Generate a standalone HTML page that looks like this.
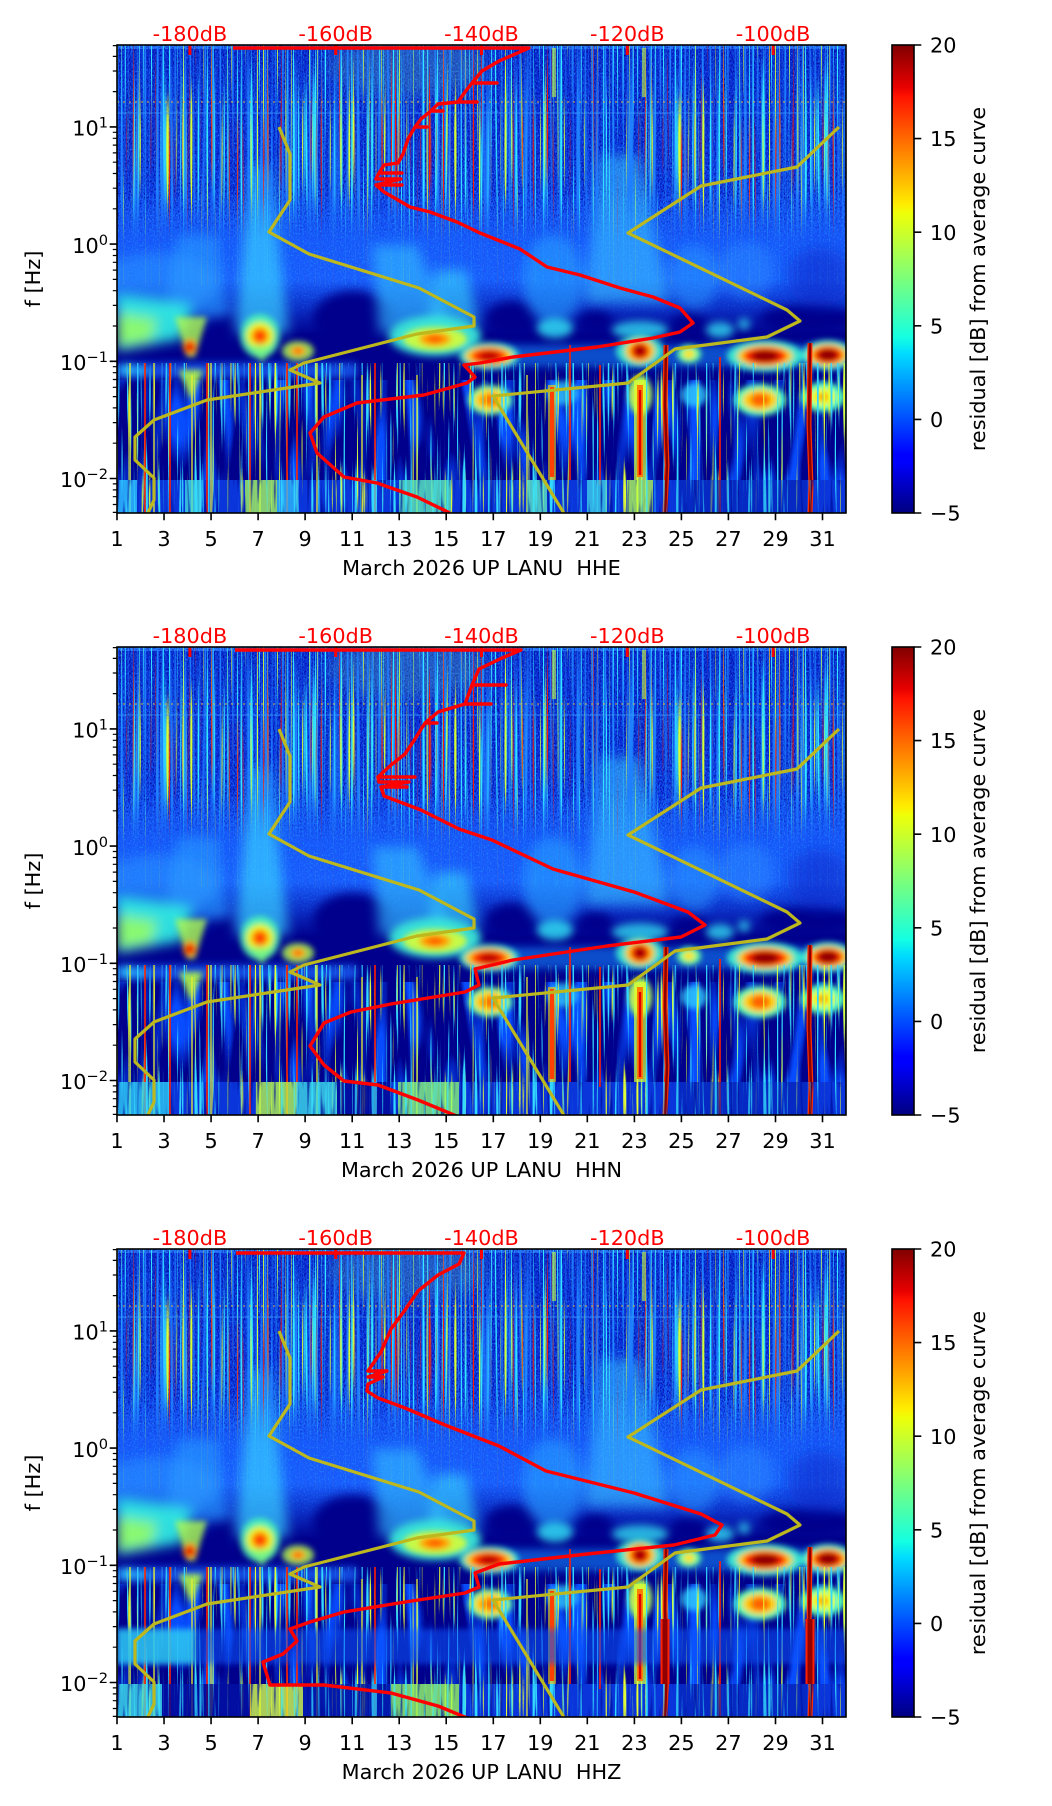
<!DOCTYPE html>
<html><head><meta charset="utf-8"><style>
html,body{margin:0;padding:0;background:#fff;}
svg{display:block;}
text{font-family:"DejaVu Sans","Liberation Sans",sans-serif;}
</style></head><body>
<svg width="1052" height="1806" viewBox="0 0 1052 1806" xmlns="http://www.w3.org/2000/svg" xmlns:xlink="http://www.w3.org/1999/xlink">
<defs>
<linearGradient id="jet" x1="0" y1="1" x2="0" y2="0">
<stop offset="0" stop-color="#000080"/><stop offset="0.11" stop-color="#0000ff"/><stop offset="0.125" stop-color="#0000ff"/><stop offset="0.34" stop-color="#00dbff"/><stop offset="0.375" stop-color="#14ffe2"/><stop offset="0.5" stop-color="#7bff7b"/><stop offset="0.64" stop-color="#eeff08"/><stop offset="0.66" stop-color="#ffec00"/><stop offset="0.89" stop-color="#ff1300"/><stop offset="0.91" stop-color="#e80000"/><stop offset="1" stop-color="#800000"/>
</linearGradient>
<linearGradient id="gUp" x1="0" y1="0" x2="0" y2="1">
<stop offset="0" stop-color="#0a2ed8"/><stop offset="0.6" stop-color="#0b36e4"/><stop offset="1" stop-color="#1248f0"/>
</linearGradient>
<linearGradient id="gMid" x1="0" y1="0" x2="0" y2="1">
<stop offset="0" stop-color="#1248f0"/><stop offset="0.15" stop-color="#1656fa"/><stop offset="0.6" stop-color="#1a5eff"/><stop offset="0.8" stop-color="#0c30c8"/><stop offset="1" stop-color="#00008c"/>
</linearGradient>
<linearGradient id="gFadeUp" gradientUnits="userSpaceOnUse" x1="0" y1="150" x2="0" y2="195">
<stop offset="0" stop-color="#fff"/><stop offset="1" stop-color="#1a1a1a"/>
</linearGradient>
<linearGradient id="gFadeMid" gradientUnits="userSpaceOnUse" x1="0" y1="222" x2="0" y2="278">
<stop offset="0" stop-color="#fff"/><stop offset="1" stop-color="#000"/>
</linearGradient>
<mask id="mUp" maskUnits="userSpaceOnUse" x="0" y="0" width="729" height="468"><rect width="729" height="468" fill="url(#gFadeUp)"/></mask>
<mask id="mMid" maskUnits="userSpaceOnUse" x="0" y="0" width="729" height="468"><rect width="729" height="468" fill="url(#gFadeMid)"/></mask>
<clipPath id="cp"><rect x="0" y="0" width="729" height="468"/></clipPath>
<filter id="b3" filterUnits="userSpaceOnUse" x="-60" y="-60" width="850" height="590"><feGaussianBlur stdDeviation="3"/></filter>
<filter id="b4" filterUnits="userSpaceOnUse" x="-60" y="-60" width="850" height="590"><feGaussianBlur stdDeviation="4"/></filter>
<filter id="b5" filterUnits="userSpaceOnUse" x="-60" y="-60" width="850" height="590"><feGaussianBlur stdDeviation="5"/></filter>
<filter id="b6" filterUnits="userSpaceOnUse" x="-60" y="-60" width="850" height="590"><feGaussianBlur stdDeviation="6"/></filter>
<filter id="b8" filterUnits="userSpaceOnUse" x="-60" y="-60" width="850" height="590"><feGaussianBlur stdDeviation="8"/></filter>
<filter id="stL" filterUnits="userSpaceOnUse" x="0" y="0" width="729" height="468" color-interpolation-filters="sRGB">
<feTurbulence type="fractalNoise" baseFrequency="0.4 0.004" numOctaves="1" seed="7"/>
<feColorMatrix type="matrix" values="0 0 0 0 0.12  0 0 0 0 0.5  0 0 0 0 1  6 0 0 0 -3.0"/>
<feComposite in2="SourceAlpha" operator="in"/>
</filter>
<filter id="stC" filterUnits="userSpaceOnUse" x="0" y="0" width="729" height="468" color-interpolation-filters="sRGB">
<feTurbulence type="fractalNoise" baseFrequency="0.5 0.005" numOctaves="1" seed="3"/>
<feColorMatrix type="matrix" values="0 0 0 0 0.2  0 0 0 0 0.9  0 0 0 0 1  8 0 0 0 -4.6"/>
<feComposite in2="SourceAlpha" operator="in"/>
</filter>
<filter id="stY" filterUnits="userSpaceOnUse" x="0" y="0" width="729" height="468" color-interpolation-filters="sRGB">
<feTurbulence type="fractalNoise" baseFrequency="0.5 0.005" numOctaves="1" seed="11"/>
<feColorMatrix type="matrix" values="0 0 0 0 0.85  0 0 0 0 1  0 0 0 0 0.2  10 0 0 0 -6.4"/>
<feComposite in2="SourceAlpha" operator="in"/>
</filter>
<filter id="stR" filterUnits="userSpaceOnUse" x="0" y="0" width="729" height="468" color-interpolation-filters="sRGB">
<feTurbulence type="fractalNoise" baseFrequency="0.5 0.005" numOctaves="1" seed="23"/>
<feColorMatrix type="matrix" values="0 0 0 0 1  0 0 0 0 0.1  0 0 0 0 0  10 0 0 0 -6.7"/>
<feComposite in2="SourceAlpha" operator="in"/>
</filter>
<filter id="stC2" filterUnits="userSpaceOnUse" x="0" y="0" width="729" height="468" color-interpolation-filters="sRGB">
<feTurbulence type="fractalNoise" baseFrequency="0.45 0.01" numOctaves="1" seed="31"/>
<feColorMatrix type="matrix" values="0 0 0 0 0.2  0 0 0 0 0.85  0 0 0 0 1  9 0 0 0 -5.2"/>
<feComposite in2="SourceAlpha" operator="in"/>
</filter>
<filter id="stY2" filterUnits="userSpaceOnUse" x="0" y="0" width="729" height="468" color-interpolation-filters="sRGB">
<feTurbulence type="fractalNoise" baseFrequency="0.45 0.01" numOctaves="1" seed="41"/>
<feColorMatrix type="matrix" values="0 0 0 0 0.9  0 0 0 0 1  0 0 0 0 0.2  10 0 0 0 -6.4"/>
<feComposite in2="SourceAlpha" operator="in"/>
</filter>
<filter id="stN" filterUnits="userSpaceOnUse" x="0" y="0" width="729" height="468" color-interpolation-filters="sRGB">
<feTurbulence type="fractalNoise" baseFrequency="0.3 0.02" numOctaves="1" seed="53"/>
<feColorMatrix type="matrix" values="0 0 0 0 0  0 0 0 0 0.05  0 0 0 0 0.6  6 0 0 0 -3.4"/>
<feComposite in2="SourceAlpha" operator="in"/>
</filter>
<filter id="stB" filterUnits="userSpaceOnUse" x="0" y="0" width="729" height="468" color-interpolation-filters="sRGB">
<feTurbulence type="fractalNoise" baseFrequency="0.07 0.012" numOctaves="1" seed="5"/>
<feColorMatrix type="matrix" values="0 0 0 0 0.03  0 0 0 0 0.3  0 0 0 0 1  5 0 0 0 -2.4"/>
<feComposite in2="SourceAlpha" operator="in"/>
</filter>
<filter id="spk" filterUnits="userSpaceOnUse" x="0" y="0" width="729" height="468" color-interpolation-filters="sRGB">
<feTurbulence type="fractalNoise" baseFrequency="0.8 0.5" numOctaves="1" seed="9"/>
<feColorMatrix type="matrix" values="0 0 0 0 0  0 0 0 0 0  0 0 0 0 0.55  5 0 0 0 -2.3"/>
<feComposite in2="SourceAlpha" operator="in"/>
</filter>
<filter id="spkL" filterUnits="userSpaceOnUse" x="0" y="0" width="729" height="468" color-interpolation-filters="sRGB">
<feTurbulence type="fractalNoise" baseFrequency="0.8 0.5" numOctaves="1" seed="17"/>
<feColorMatrix type="matrix" values="0 0 0 0 0.15  0 0 0 0 0.58  0 0 0 0 1  5 0 0 0 -2.7"/>
<feComposite in2="SourceAlpha" operator="in"/>
</filter>

<g id="spec">
<rect width="729" height="468" fill="#00008c"/>
<rect width="729" height="175" fill="url(#gUp)"/>
<rect y="150" width="729" height="140" fill="url(#gMid)"/>
<rect width="729" height="4" fill="#2a78ff"/>
<g mask="url(#mUp)">
<rect width="729" height="260" filter="url(#spk)" opacity="0.7"/>
</g>
<g mask="url(#mMid)">
<rect width="729" height="290" filter="url(#spkL)" opacity="0.6"/>
</g>
<ellipse cx="290" cy="22" rx="80" ry="30" fill="#70e0a0" opacity="0.25" filter="url(#b8)"/>
<g fill="#00008c" filter="url(#b5)">
<ellipse cx="236" cy="274" rx="40" ry="28"/>
<ellipse cx="106" cy="284" rx="16" ry="14"/>
<ellipse cx="395" cy="274" rx="26" ry="18"/>
<ellipse cx="478" cy="277" rx="18" ry="12"/>
<ellipse cx="572" cy="280" rx="18" ry="12"/>
<ellipse cx="690" cy="274" rx="48" ry="14"/>
</g>
<ellipse cx="702" cy="232" rx="32" ry="30" fill="#0828c8" opacity="0.55" filter="url(#b8)"/>
<g filter="url(#b6)">
<ellipse cx="40" cy="238" rx="60" ry="30" fill="#2a98ff" opacity="0.55"/>
<polygon points="60,190 100,190 112,272 48,272" fill="#2a9cff" opacity="0.6"/>
<polygon points="134,120 152,120 172,288 118,288" fill="#38d0ff" opacity="0.7"/>
<polygon points="255,200 300,200 335,288 262,288" fill="#30b8ff" opacity="0.65"/>
<polygon points="318,225 350,225 362,282 312,282" fill="#38d0ff" opacity="0.65"/>
<ellipse cx="436" cy="235" rx="30" ry="45" fill="#2aa0ff" opacity="0.6"/>
<polygon points="482,110 522,110 552,258 468,258" fill="#38c8ff" opacity="0.55"/>
<ellipse cx="577" cy="232" rx="25" ry="32" fill="#2a98ff" opacity="0.55"/>
<ellipse cx="630" cy="225" rx="28" ry="28" fill="#2a90ff" opacity="0.45"/>
<polygon points="0,250 75,260 65,294 0,306" fill="#30e8e0" opacity="0.95"/>
<polygon points="0,268 40,274 34,296 0,302" fill="#a0ff58" opacity="0.8"/>
</g>
<g filter="url(#b4)">
<ellipse cx="438" cy="283" rx="18" ry="10" fill="#30d8f0" opacity="0.85"/>
<ellipse cx="523" cy="285" rx="28" ry="9" fill="#30d8f0" opacity="0.8"/>
<ellipse cx="603" cy="285" rx="14" ry="8" fill="#30d8f0" opacity="0.8"/>
<ellipse cx="627" cy="279" rx="6" ry="6" fill="#30d8f0" opacity="0.75"/>
<ellipse cx="318" cy="291" rx="46" ry="20" fill="#38e8d8" opacity="0.95"/>
<rect x="380" y="300" width="349" height="22" fill="#1a8cff" opacity="0.55"/>
<rect x="0" y="318" width="240" height="15" fill="#1a66ff" opacity="0.75"/>
<ellipse cx="10" cy="325" rx="8" ry="6" fill="#30d0ff" opacity="0.8"/>
<ellipse cx="25" cy="326" rx="6" ry="5" fill="#30d0ff" opacity="0.7"/>
</g>
<g mask="url(#mUp)">
<rect width="729" height="240" filter="url(#stL)"/>
<rect width="729" height="240" filter="url(#stC)"/>
<rect width="729" height="240" filter="url(#stY)"/>
<rect width="729" height="240" filter="url(#stR)"/>
</g>
<rect y="335" width="729" height="100" filter="url(#stB)"/>
<rect y="435" width="729" height="33" fill="#0a3ee8" opacity="0.85"/>
<g filter="url(#b3)">
<polygon points="58,272 90,272 78,312 70,312" fill="#b0ff50" opacity="0.8"/>
<ellipse cx="73" cy="302" rx="7" ry="8" fill="#ff8000"/>
<ellipse cx="73" cy="302" rx="4" ry="5" fill="#e00000"/>
<ellipse cx="143" cy="291" rx="20" ry="22" fill="#50ffb0" opacity="0.8"/>
<ellipse cx="143" cy="291" rx="14" ry="14" fill="#e8ff20"/>
<ellipse cx="143" cy="291" rx="9" ry="9" fill="#ff9000"/>
<ellipse cx="143" cy="291" rx="5" ry="5" fill="#ff3000"/>
<polygon points="130,300 158,300 145,318" fill="#80ff80" opacity="0.7"/>
<ellipse cx="181" cy="306" rx="16" ry="10" fill="#b0ff50" opacity="0.8"/>
<ellipse cx="181" cy="306" rx="8" ry="5" fill="#ffb000"/>
<ellipse cx="181" cy="306" rx="4" ry="3" fill="#ff5000"/>
<ellipse cx="318" cy="294" rx="32" ry="12" fill="#e0ff30" opacity="0.85"/>
<ellipse cx="318" cy="294" rx="16" ry="7" fill="#ffa000"/>
<ellipse cx="318" cy="294" rx="8" ry="4" fill="#ff6000"/>
<ellipse cx="372" cy="311" rx="30" ry="14" fill="#40ffd0" opacity="0.8"/>
<ellipse cx="372" cy="311" rx="24" ry="10" fill="#ffd000"/>
<ellipse cx="372" cy="311" rx="18" ry="8" fill="#ff3000"/>
<ellipse cx="372" cy="311" rx="10" ry="5" fill="#c00000"/>
<ellipse cx="523" cy="306" rx="24" ry="16" fill="#40ffd0" opacity="0.8"/>
<ellipse cx="523" cy="306" rx="15" ry="12" fill="#ffd000"/>
<ellipse cx="523" cy="306" rx="10" ry="9" fill="#ff2000"/>
<ellipse cx="523" cy="306" rx="6" ry="6" fill="#a00000"/>
<ellipse cx="572" cy="309" rx="12" ry="9" fill="#60ffa0"/>
<ellipse cx="572" cy="309" rx="6" ry="5" fill="#ffe000"/>
<ellipse cx="648" cy="311" rx="38" ry="16" fill="#40ffd0" opacity="0.85"/>
<ellipse cx="648" cy="311" rx="28" ry="11" fill="#ffd000"/>
<ellipse cx="648" cy="311" rx="22" ry="9" fill="#ff2000"/>
<ellipse cx="648" cy="311" rx="14" ry="6" fill="#900000"/>
<ellipse cx="711" cy="310" rx="26" ry="15" fill="#40ffd0" opacity="0.85"/>
<ellipse cx="711" cy="310" rx="20" ry="11" fill="#ffd000"/>
<ellipse cx="711" cy="310" rx="15" ry="9" fill="#ff2000"/>
<ellipse cx="711" cy="310" rx="10" ry="6" fill="#900000"/>
<polygon points="62,325 86,325 74,356" fill="#b8ff40" opacity="0.85"/>
<ellipse cx="373" cy="355" rx="22" ry="15" fill="#60ffa0"/>
<ellipse cx="373" cy="355" rx="16" ry="11" fill="#ffd000"/>
<ellipse cx="373" cy="355" rx="9" ry="6" fill="#ff7000"/>
<ellipse cx="446" cy="348" rx="16" ry="12" fill="#30c8ff" opacity="0.8"/>
<ellipse cx="523" cy="350" rx="12" ry="20" fill="#a0ff60"/>
<ellipse cx="523" cy="350" rx="6" ry="12" fill="#ffd000"/>
<ellipse cx="577" cy="350" rx="13" ry="12" fill="#30d0ff" opacity="0.8"/>
<ellipse cx="643" cy="355" rx="26" ry="16" fill="#50ffb8"/>
<ellipse cx="643" cy="355" rx="18" ry="11" fill="#ffd000"/>
<ellipse cx="643" cy="355" rx="10" ry="7" fill="#ff6000"/>
<ellipse cx="706" cy="352" rx="22" ry="15" fill="#50ffb8"/>
<ellipse cx="706" cy="352" rx="13" ry="9" fill="#f0ff20"/>
<ellipse cx="706" cy="352" rx="6" ry="4" fill="#ffa000"/>
</g>
<rect y="318" width="729" height="150" filter="url(#stC2)"/>
<rect y="318" width="729" height="150" filter="url(#stY2)"/>
<g fill="none">
<path d="M0,57 H729" stroke="#f0c040" stroke-width="1.5" stroke-dasharray="2 4" opacity="0.6"/>
<path d="M0,68 H729" stroke="#40a0ff" stroke-width="1.5" opacity="0.45"/>
<path d="M549,300 L548,360 L550,420 L548,468" stroke="#ff3000" stroke-width="5"/>
<path d="M549,300 L548,360 L550,420 L548,468" stroke="#8a0000" stroke-width="2.5"/>
<path d="M693,298 L692,380 L694,440 L693,468" stroke="#ff3000" stroke-width="5"/>
<path d="M693,298 L692,380 L694,440 L693,468" stroke="#8a0000" stroke-width="2.5"/>
<path d="M523,335 V435" stroke="#d8ff30" stroke-width="12" opacity="0.7"/>
<path d="M523,340 V432" stroke="#ff8000" stroke-width="6"/>
<path d="M523,345 V430" stroke="#e00000" stroke-width="2.5"/>
<path d="M435,340 V435" stroke="#ffd000" stroke-width="8" opacity="0.6"/>
<path d="M435,342 V432" stroke="#ff4000" stroke-width="4"/>
<path d="M453,300 V435 M603,312 V468 M483,320 V440 M28,318 V468 M53,318 V468 M90,318 V468 M133,318 V468 M170,318 V468 M180,318 V468 M258,318 V468" stroke="#ff2000" stroke-width="1.6"/>
<path d="M13,318 V468 M37,318 V468 M75,330 V468 M94,318 V468 M143,318 V468 M200,318 V468 M245,330 V468 M300,330 V468 M410,330 V468" stroke="#e8f030" stroke-width="1.3"/>
<path d="M437,3 V52 M527,3 V52" stroke="#c8ff40" stroke-width="4" opacity="0.6"/>
</g>
</g>

<g id="yel" fill="none" stroke="#bcb81e" stroke-width="3.2" stroke-linejoin="round">
<polyline points="162,82 173,109 173,155 152,187 192,209 302,243 357,272 357,281 300,289 187,318 173,325 203,338 90,355 37,375 18,392 18,415 37,433 37,455 30,470"/>
<polyline points="722,82 680,122 584,141 511,188 670,265 683,276 650,292 558,304 511,338 376,351 448,470"/>
</g>

<g id="botfx">
<rect y="435" width="729" height="33" filter="url(#stN)" opacity="0.7"/>
<rect y="435" width="729" height="33" filter="url(#stC2)" opacity="0.7"/>
</g>

<g id="axes" fill="none">
<path d="M72.9,0v10 M218.7,0v10 M364.5,0v10 M510.3,0v10 M656.1,0v10" stroke="#ff0000" stroke-width="3"/>
<rect x="0" y="0" width="729" height="468" stroke="#000" stroke-width="1.6"/>
<rect x="775" y="0" width="22" height="468" fill="url(#jet)" stroke="#000" stroke-width="1.6"/>
<path stroke="#000" stroke-width="1.6" d="M0,468v7.3 M47.03,468v7.3 M94.06,468v7.3 M141.1,468v7.3 M188.1,468v7.3 M235.2,468v7.3 M282.2,468v7.3 M329.2,468v7.3 M376.3,468v7.3 M423.3,468v7.3 M470.3,468v7.3 M517.4,468v7.3 M564.4,468v7.3 M611.4,468v7.3 M658.5,468v7.3 M705.5,468v7.3 M0,81.9h-7.3 M0,199.1h-7.3 M0,316.3h-7.3 M0,433.5h-7.3 M797,0h7.3 M797,93.6h7.3 M797,187.2h7.3 M797,280.8h7.3 M797,374.4h7.3 M797,468h7.3"/>
<path stroke="#000" stroke-width="1.2" d="M0,0.6h-4.2 M0,11.4h-4.2 M0,26h-4.2 M0,46.6h-4.2 M0,87.3h-4.2 M0,93.3h-4.2 M0,100.1h-4.2 M0,107.9h-4.2 M0,117.2h-4.2 M0,128.5h-4.2 M0,143.2h-4.2 M0,163.8h-4.2 M0,204.5h-4.2 M0,210.5h-4.2 M0,217.3h-4.2 M0,225.1h-4.2 M0,234.4h-4.2 M0,245.7h-4.2 M0,260.4h-4.2 M0,281h-4.2 M0,321.7h-4.2 M0,327.7h-4.2 M0,334.5h-4.2 M0,342.3h-4.2 M0,351.6h-4.2 M0,362.9h-4.2 M0,377.6h-4.2 M0,398.2h-4.2 M0,438.9h-4.2 M0,444.9h-4.2 M0,451.7h-4.2 M0,459.5h-4.2 M0,467.4h-4.2"/>
</g>
</defs>

<!-- ===== Panel 1 ===== -->
<g transform="translate(117,45)">
<g clip-path="url(#cp)">
<use xlink:href="#spec"/>
<g opacity="0.75">
<rect x="0" y="435" width="20" height="33" fill="#30c8ff"/>
<rect x="68" y="435" width="16" height="33" fill="#40e0e0"/>
<rect x="128" y="435" width="32" height="33" fill="#b0ff50"/>
<rect x="160" y="435" width="22" height="33" fill="#30c0ff"/>
<rect x="282" y="435" width="52" height="33" fill="#60f0b0"/>
<rect x="410" y="435" width="20" height="33" fill="#60f0c0"/>
<rect x="470" y="435" width="20" height="33" fill="#40d8e8"/>
<rect x="510" y="435" width="26" height="33" fill="#b8ff48"/>
<rect x="560" y="435" width="130" height="33" fill="#0420b0" opacity="0.7"/>
</g>
<use xlink:href="#botfx"/>
<use xlink:href="#yel"/>
<polyline fill="none" stroke="#ff0000" stroke-width="3.4" stroke-linejoin="round" points="116,3 412,3 382,16 365,26 355,38 380,38 355,38 348,47 341,57 360,57 341,57 321,59 314,66 326,66 314,66 304,74 298,82 310,82 298,82 291,94 286,109 281,118 267,120 262,128 285,128 262,128 259,134 284,134 259,140 285,140 259,140 267,147 281,155 293,162 313,167 340,177 363,188 373,192 403,204 430,222 463,230 503,243 536,252 563,263 576,278 563,287 536,293 480,302 396,312 363,318 347,320 358,332 350,338 307,350 240,358 207,372 193,388 200,408 227,432 260,438 300,452 333,468"/>
</g>
<use xlink:href="#axes"/>
<g font-size="20.8" fill="#000">
<g fill="#ff0000" text-anchor="middle">
<text x="72.9" y="-4">-180dB</text><text x="218.7" y="-4">-160dB</text><text x="364.5" y="-4">-140dB</text><text x="510.3" y="-4">-120dB</text><text x="656.1" y="-4">-100dB</text>
</g>
<g text-anchor="end">
<text x="-9" y="90.6">10<tspan font-size="14.6" dy="-8">1</tspan></text>
<text x="-9" y="207.8">10<tspan font-size="14.6" dy="-8">0</tspan></text>
<text x="-9" y="325">10<tspan font-size="14.6" dy="-8">−1</tspan></text>
<text x="-9" y="442.2">10<tspan font-size="14.6" dy="-8">−2</tspan></text>
</g>
<g text-anchor="middle">
<text x="0" y="501">1</text><text x="47.03" y="501">3</text><text x="94.06" y="501">5</text><text x="141.1" y="501">7</text><text x="188.1" y="501">9</text><text x="235.2" y="501">11</text><text x="282.2" y="501">13</text><text x="329.2" y="501">15</text><text x="376.3" y="501">17</text><text x="423.3" y="501">19</text><text x="470.3" y="501">21</text><text x="517.4" y="501">23</text><text x="564.4" y="501">25</text><text x="611.4" y="501">27</text><text x="658.5" y="501">29</text><text x="705.5" y="501">31</text>
</g>
<g>
<text x="813" y="7.6">20</text><text x="813" y="101.2">15</text><text x="813" y="194.8">10</text><text x="813" y="288.4">5</text><text x="813" y="382">0</text><text x="813" y="475.6">−5</text>
</g>
<text x="364.5" y="530" text-anchor="middle" style="white-space:pre">March 2026 UP LANU  HHE</text>
<text transform="translate(-77,234) rotate(-90)" text-anchor="middle">f [Hz]</text>
<text transform="translate(868,234) rotate(-90)" text-anchor="middle">residual [dB] from average curve</text>
</g>
</g>

<!-- ===== Panel 2 ===== -->
<g transform="translate(117,647)">
<g clip-path="url(#cp)">
<use xlink:href="#spec"/>
<g opacity="0.75">
<rect x="0" y="435" width="52" height="33" fill="#30d0f0"/>
<rect x="139" y="435" width="41" height="33" fill="#c0ff40"/>
<rect x="180" y="435" width="40" height="33" fill="#40e0e0"/>
<rect x="220" y="435" width="54" height="33" fill="#000090"/>
<rect x="281" y="435" width="61" height="33" fill="#90ff70"/>
<rect x="560" y="435" width="130" height="33" fill="#0420b0" opacity="0.7"/>
</g>
<use xlink:href="#botfx"/>
<use xlink:href="#yel"/>
<polyline fill="none" stroke="#ff0000" stroke-width="3.4" stroke-linejoin="round" points="118,3 404,3 385,11 362,22 355,38 389,38 355,38 348,57 374,57 348,57 321,65 308,76 320,76 308,76 298,92 288,107 274,118 261,130 298,130 261,130 262,135 292,135 264,140 290,140 264,140 267,149 304,163 342,182 375,193 436,222 517,245 571,265 588,278 564,290 490,299 396,313 358,322 362,338 348,345 274,357 234,365 207,376 193,399 207,418 227,434 261,438 301,453 342,470"/>
</g>
<use xlink:href="#axes"/>
<g font-size="20.8" fill="#000">
<g fill="#ff0000" text-anchor="middle">
<text x="72.9" y="-4">-180dB</text><text x="218.7" y="-4">-160dB</text><text x="364.5" y="-4">-140dB</text><text x="510.3" y="-4">-120dB</text><text x="656.1" y="-4">-100dB</text>
</g>
<g text-anchor="end">
<text x="-9" y="90.6">10<tspan font-size="14.6" dy="-8">1</tspan></text>
<text x="-9" y="207.8">10<tspan font-size="14.6" dy="-8">0</tspan></text>
<text x="-9" y="325">10<tspan font-size="14.6" dy="-8">−1</tspan></text>
<text x="-9" y="442.2">10<tspan font-size="14.6" dy="-8">−2</tspan></text>
</g>
<g text-anchor="middle">
<text x="0" y="501">1</text><text x="47.03" y="501">3</text><text x="94.06" y="501">5</text><text x="141.1" y="501">7</text><text x="188.1" y="501">9</text><text x="235.2" y="501">11</text><text x="282.2" y="501">13</text><text x="329.2" y="501">15</text><text x="376.3" y="501">17</text><text x="423.3" y="501">19</text><text x="470.3" y="501">21</text><text x="517.4" y="501">23</text><text x="564.4" y="501">25</text><text x="611.4" y="501">27</text><text x="658.5" y="501">29</text><text x="705.5" y="501">31</text>
</g>
<g>
<text x="813" y="7.6">20</text><text x="813" y="101.2">15</text><text x="813" y="194.8">10</text><text x="813" y="288.4">5</text><text x="813" y="382">0</text><text x="813" y="475.6">−5</text>
</g>
<text x="364.5" y="530" text-anchor="middle" style="white-space:pre">March 2026 UP LANU  HHN</text>
<text transform="translate(-77,234) rotate(-90)" text-anchor="middle">f [Hz]</text>
<text transform="translate(868,234) rotate(-90)" text-anchor="middle">residual [dB] from average curve</text>
</g>
</g>

<!-- ===== Panel 3 ===== -->
<g transform="translate(117,1249)">
<g clip-path="url(#cp)">
<use xlink:href="#spec"/>
<rect x="0" y="380" width="729" height="35" fill="#1058ff" opacity="0.55" filter="url(#b3)"/>
<rect x="0" y="380" width="78" height="35" fill="#30d8f0" opacity="0.75" filter="url(#b3)"/>
<g opacity="0.75">
<rect x="0" y="435" width="45" height="33" fill="#40e0e0"/>
<rect x="45" y="435" width="88" height="33" fill="#000090"/>
<rect x="133" y="435" width="53" height="33" fill="#e0ff30"/>
<rect x="186" y="435" width="88" height="33" fill="#0010a0"/>
<rect x="274" y="435" width="68" height="33" fill="#a0ff50"/>
<rect x="560" y="435" width="130" height="33" fill="#0420b0" opacity="0.7"/>
</g>
<use xlink:href="#botfx"/>
<path d="M548,370 V435 M693,370 V435" stroke="#ff2000" stroke-width="9" fill="none"/>
<path d="M548,370 V435 M693,370 V435" stroke="#900000" stroke-width="5" fill="none"/>
<use xlink:href="#yel"/>
<polyline fill="none" stroke="#ff0000" stroke-width="3.4" stroke-linejoin="round" points="119,4 347,4 342,15 321,26 301,42 288,61 274,80 264,103 251,122 270,122 251,128 266,128 251,135 250,142 261,149 288,159 328,176 382,197 429,222 517,244 584,265 605,276 598,286 557,296 470,305 382,315 358,324 362,338 348,344 288,353 227,363 193,373 173,380 180,392 166,405 146,413 153,436 207,436 274,444 321,457 355,471"/>
</g>
<use xlink:href="#axes"/>
<g font-size="20.8" fill="#000">
<g fill="#ff0000" text-anchor="middle">
<text x="72.9" y="-4">-180dB</text><text x="218.7" y="-4">-160dB</text><text x="364.5" y="-4">-140dB</text><text x="510.3" y="-4">-120dB</text><text x="656.1" y="-4">-100dB</text>
</g>
<g text-anchor="end">
<text x="-9" y="90.6">10<tspan font-size="14.6" dy="-8">1</tspan></text>
<text x="-9" y="207.8">10<tspan font-size="14.6" dy="-8">0</tspan></text>
<text x="-9" y="325">10<tspan font-size="14.6" dy="-8">−1</tspan></text>
<text x="-9" y="442.2">10<tspan font-size="14.6" dy="-8">−2</tspan></text>
</g>
<g text-anchor="middle">
<text x="0" y="501">1</text><text x="47.03" y="501">3</text><text x="94.06" y="501">5</text><text x="141.1" y="501">7</text><text x="188.1" y="501">9</text><text x="235.2" y="501">11</text><text x="282.2" y="501">13</text><text x="329.2" y="501">15</text><text x="376.3" y="501">17</text><text x="423.3" y="501">19</text><text x="470.3" y="501">21</text><text x="517.4" y="501">23</text><text x="564.4" y="501">25</text><text x="611.4" y="501">27</text><text x="658.5" y="501">29</text><text x="705.5" y="501">31</text>
</g>
<g>
<text x="813" y="7.6">20</text><text x="813" y="101.2">15</text><text x="813" y="194.8">10</text><text x="813" y="288.4">5</text><text x="813" y="382">0</text><text x="813" y="475.6">−5</text>
</g>
<text x="364.5" y="530" text-anchor="middle" style="white-space:pre">March 2026 UP LANU  HHZ</text>
<text transform="translate(-77,234) rotate(-90)" text-anchor="middle">f [Hz]</text>
<text transform="translate(868,234) rotate(-90)" text-anchor="middle">residual [dB] from average curve</text>
</g>
</g>
</svg>
</body></html>
